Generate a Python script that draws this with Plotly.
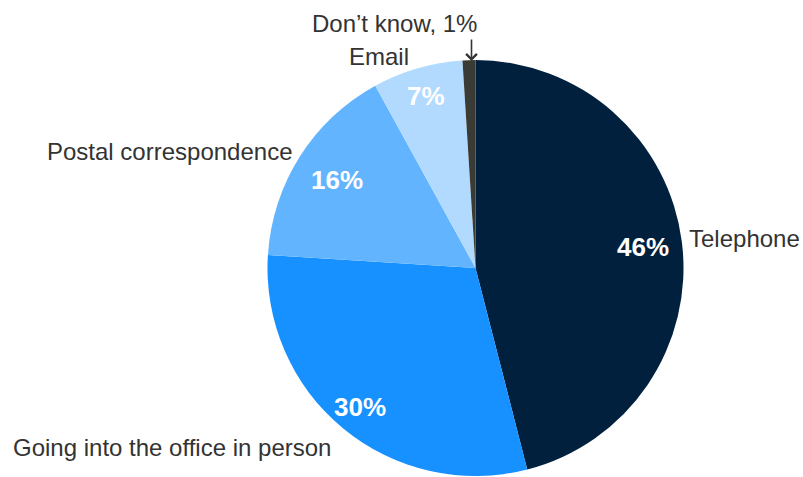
import math
import plotly.graph_objects as go

# Share of respondents by preferred contact channel
channels = ["Telephone", "Going into the office in person", "Postal correspondence", "Email", "Don\u2019t know"]
shares = [46, 30, 16, 7, 1]
colors = ["#01203D", "#1791FF", "#63B4FF", "#B2DAFF", "#3B3B35"]

W, H = 803, 477
CX, CY, R = 475.5, 268.0, 208.0          # pie centre and radius in pixels
label_radius = [0.81, 0.87, 0.79, 0.86]  # radial position of the in-slice percentages

fig = go.Figure(go.Pie(
    labels=channels,
    values=shares,
    sort=False,
    direction="clockwise",
    rotation=0,
    textinfo="none",
    hoverinfo="label+percent",
    marker=dict(colors=colors, line=dict(width=0)),
    domain=dict(x=[(CX - R) / W, (CX + R) / W], y=[1 - (CY + R) / H, 1 - (CY - R) / H]),
    showlegend=False,
))


def to_paper(px, py):
    return px / W, 1 - py / H


annotations = []
total = sum(shares)
cum = 0.0
for i, v in enumerate(shares):
    mid = (cum + v / 2) / total * 2 * math.pi
    cum += v
    if i < len(label_radius):
        px = CX + R * label_radius[i] * math.sin(mid)
        py = CY - R * label_radius[i] * math.cos(mid)
        x, y = to_paper(px, py)
        annotations.append(dict(
            x=x, y=y, xref="paper", yref="paper", text=f"<b>{v}%</b>", showarrow=False,
            font=dict(family="Liberation Sans, Arial, sans-serif", size=26, color="white"),
            xanchor="center", yanchor="middle",
        ))

label_font = dict(family="Liberation Sans, Arial, sans-serif", size=24, color="#333333")
outside = [
    (channels[0], 687, 238, "left"),
    (channels[1], 11, 447, "left"),
    (channels[2], 294, 151, "right"),
    (channels[3], 379, 56, "center"),
    (f"{channels[4]}, {shares[4]}%", 394, 24, "center"),
]
for text, px, py, anchor in outside:
    x, y = to_paper(px, py)
    annotations.append(dict(
        x=x, y=y, xref="paper", yref="paper", text=text, showarrow=False,
        font=label_font, xanchor=anchor, yanchor="middle",
    ))

# pointer from the "Don't know" label down to its thin slice
hx, hy = to_paper(471.5, 61)
annotations.append(dict(
    x=hx, y=hy, xref="paper", yref="paper", text="", showarrow=True,
    ax=0, ay=-23, arrowhead=4, arrowsize=1.3, arrowwidth=1.6, arrowcolor="#333333",
))

fig.update_layout(
    width=W, height=H,
    margin=dict(l=0, r=0, t=0, b=0),
    paper_bgcolor="white", plot_bgcolor="white",
    annotations=annotations,
)

fig.write_html("out.html")
